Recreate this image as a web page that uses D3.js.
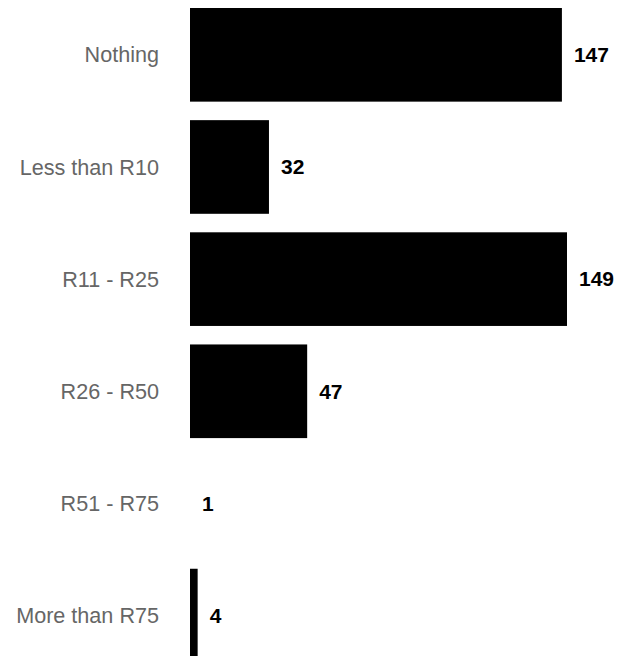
<!DOCTYPE html>
<html>
<head>
<meta charset="utf-8">
<script src="https://cdn.jsdelivr.net/npm/d3@7"></script>
<style>
  html, body { margin: 0; padding: 0; background: #fff; overflow: hidden; }
  svg { display: block; }
</style>
</head>
<body>
<svg id="chart" width="627" height="656" font-family="'Liberation Sans', Arial, Helvetica, sans-serif"></svg>
<script>
// Amounts spent, number of respondents per bracket
const categories = ["Nothing", "Less than R10", "R11 - R25", "R26 - R50", "R51 - R75", "More than R75"];
const counts = [147, 32, 149, 47, 1, 4];

const width = 627, height = 656;
const svg = d3.select("#chart");

const rows = categories.map((c, i) => ({ label: c, value: counts[i] }));

const x = d3.scaleLinear()
  .domain([d3.min(counts), d3.max(counts)])
  .range([190, 567]);

const y = d3.scaleBand()
  .domain(categories)
  .range([8, 662.4])
  .paddingInner(0.165)
  .paddingOuter(0);

// bars
svg.append("g")
  .selectAll("rect")
  .data(rows)
  .join("rect")
  .attr("x", x.range()[0])
  .attr("y", d => y(d.label))
  .attr("width", d => Math.max(0, x(d.value) - x.range()[0]))
  .attr("height", y.bandwidth())
  .attr("fill", "#000");

// category labels
svg.append("g")
  .selectAll("text")
  .data(rows)
  .join("text")
  .attr("x", 159)
  .attr("y", d => y(d.label) + y.bandwidth() / 2)
  .attr("dy", "0.35em")
  .attr("text-anchor", "end")
  .attr("fill", "#666")
  .attr("font-size", 21.6)
  .text(d => d.label);

// value labels
svg.append("g")
  .selectAll("text")
  .data(rows)
  .join("text")
  .attr("x", d => x(d.value) + 12)
  .attr("y", d => y(d.label) + y.bandwidth() / 2)
  .attr("dy", "0.35em")
  .attr("fill", "#000")
  .attr("font-size", 21)
  .attr("font-weight", "bold")
  .text(d => d.value);
</script>
</body>
</html>
